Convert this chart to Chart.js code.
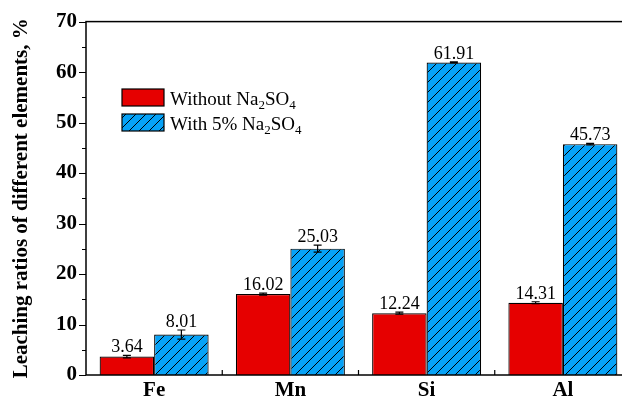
<!DOCTYPE html>
<html>
<head>
<meta charset="utf-8">
<script src="https://cdn.jsdelivr.net/npm/chart.js@4"></script>
<style>
html,body{margin:0;padding:0;background:#fff;overflow:hidden;width:622px;height:402px;}
canvas{display:block;}
</style>
</head>
<body>
<canvas id="c" width="640" height="402"></canvas>
<script>
const categories = ['Fe', 'Mn', 'Si', 'Al'];
const withoutNa = [3.64, 16.02, 12.24, 14.31];
const withoutErr = [0.25, 0.2, 0.2, 0.2];
const withNa = [8.01, 25.03, 61.91, 45.73];
const withErr = [0.9, 0.7, 0.1, 0.15];
const yTicks = [0, 10, 20, 30, 40, 50, 60, 70];
const errors = [withoutErr, withErr];

const RED = '#E60000';
const BLUE = '#06A2F7';
const SERIF = '"Liberation Serif", "Times New Roman", serif';

function hatch() {
  const t = document.createElement('canvas');
  t.width = 10; t.height = 10;
  const g = t.getContext('2d');
  g.fillStyle = BLUE; g.fillRect(0, 0, 10, 10);
  g.strokeStyle = '#000'; g.lineWidth = 1;
  g.beginPath();
  g.moveTo(0, 10); g.lineTo(10, 0);
  g.moveTo(-1, 1); g.lineTo(1, -1);
  g.moveTo(9, 11); g.lineTo(11, 9);
  g.stroke();
  return g.createPattern(t, 'repeat');
}

const deco = {
  id: 'deco',
  afterDatasetsDraw(chart) {
    const ctx = chart.ctx, a = chart.chartArea;
    const y = chart.scales.y, x = chart.scales.x;
    ctx.save();
    chart.data.datasets.forEach((ds, di) => {
      const meta = chart.getDatasetMeta(di);
      meta.data.forEach((bar, i) => {
        const v = ds.data[i], e = errors[di][i];
        const yt = y.getPixelForValue(v + e), yb = y.getPixelForValue(v - e);
        ctx.strokeStyle = '#000'; ctx.lineWidth = 1.2;
        ctx.beginPath();
        ctx.moveTo(bar.x, yt); ctx.lineTo(bar.x, yb);
        ctx.moveTo(bar.x - 4, yt); ctx.lineTo(bar.x + 4, yt);
        ctx.moveTo(bar.x - 4, yb); ctx.lineTo(bar.x + 4, yb);
        ctx.stroke();
        ctx.fillStyle = '#000';
        ctx.font = '18px ' + SERIF;
        ctx.textAlign = 'center'; ctx.textBaseline = 'alphabetic';
        ctx.fillText(v.toFixed(2), bar.x, Math.min(yt, bar.y) - 3);
      });
    });
    ctx.strokeStyle = '#000'; ctx.lineWidth = 1.5;
    ctx.strokeRect(a.left, a.top, a.right - a.left, a.bottom - a.top);
    ctx.lineWidth = 1.2;
    ctx.beginPath();
    for (let v = 0; v <= 70; v += 5) {
      const py = Math.round(y.getPixelForValue(v)) + 0.5;
      const len = (v % 10 === 0) ? 7 : 4;
      ctx.moveTo(a.left - len, py); ctx.lineTo(a.left, py);
    }
    for (let i = 0; i < categories.length - 1; i++) {
      const px = (x.getPixelForValue(i) + x.getPixelForValue(i + 1)) / 2;
      ctx.moveTo(px, a.bottom); ctx.lineTo(px, a.bottom - 5);
    }
    ctx.stroke();
    const items = [
      {fill: RED, label: 'Without Na', y0: 89},
      {fill: hatch(), label: 'With 5% Na', y0: 114}
    ];
    items.forEach(it => {
      ctx.fillStyle = it.fill;
      ctx.fillRect(122, it.y0, 42, 17);
      ctx.strokeStyle = '#000'; ctx.lineWidth = 1.2;
      ctx.strokeRect(122, it.y0, 42, 17);
      let tx = 170; const base = it.y0 + 16;
      ctx.fillStyle = '#000'; ctx.textAlign = 'left'; ctx.textBaseline = 'alphabetic';
      const parts = [[it.label, 19, 0], ['2', 13, 4], ['SO', 19, 0], ['4', 13, 4]];
      parts.forEach(p => {
        ctx.font = p[1] + 'px ' + SERIF;
        ctx.fillText(p[0], tx, base + p[2]);
        tx += ctx.measureText(p[0]).width;
      });
    });
    ctx.restore();
  }
};

new Chart(document.getElementById('c'), {
  type: 'bar',
  data: {
    labels: categories,
    datasets: [
      {label: 'Without Na2SO4', data: withoutNa, backgroundColor: RED, borderColor: '#000', borderWidth: 1.2},
      {label: 'With 5% Na2SO4', data: withNa, backgroundColor: hatch(), borderColor: '#000', borderWidth: 1.2}
    ]
  },
  options: {
    responsive: false,
    animation: false,
    events: [],
    layout: {padding: {top: 20, right: 9, left: 0, bottom: 0}},
    datasets: {bar: {categoryPercentage: 0.8, barPercentage: 1.0}},
    plugins: {legend: {display: false}, tooltip: {enabled: false}},
    scales: {
      x: {
        grid: {display: false, drawTicks: false},
        border: {display: false},
        ticks: {color: '#000', padding: 3, font: {family: SERIF, size: 21, weight: 'bold'}},
        afterFit(s) { s.height = 27; }
      },
      y: {
        min: 0, max: 70,
        afterBuildTicks(s) { s.ticks = yTicks.map(v => ({value: v})); },
        grid: {display: false, drawTicks: false},
        border: {display: false},
        ticks: {color: '#000', padding: 9, font: {family: SERIF, size: 21, weight: 'bold'}},
        title: {display: true, text: 'Leaching ratios of different elements, %', color: '#000',
                padding: {top: 9, bottom: 0}, font: {family: SERIF, size: 21, weight: 'bold'}},
        afterFit(s) { s.width = 86; }
      }
    }
  },
  plugins: [deco]
});
</script>
</body>
</html>
